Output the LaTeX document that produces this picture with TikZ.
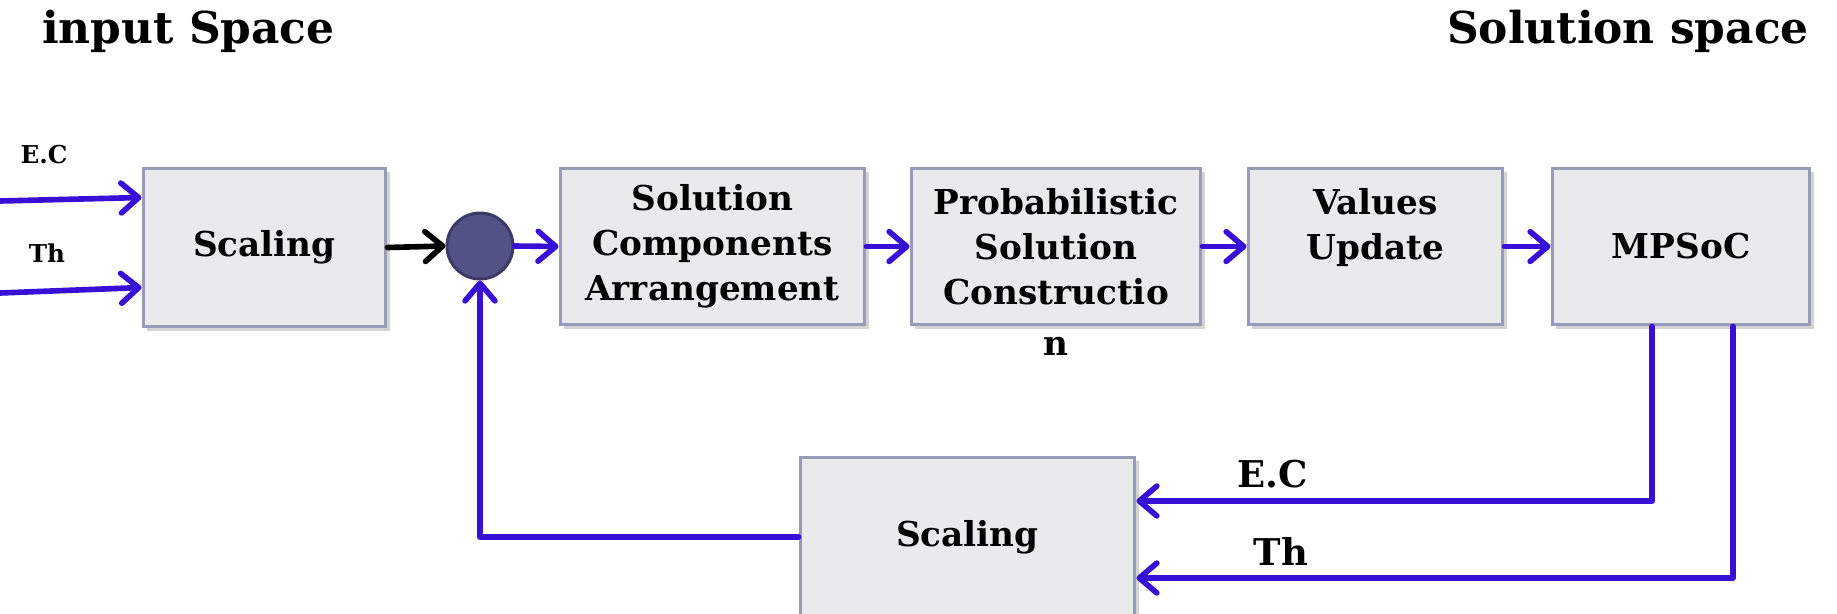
\documentclass[tikz,border=0pt]{standalone}
\usepackage{fontspec}
\setmainfont{DejaVu Serif}
\usetikzlibrary{arrows.meta,calc,shadows}

\definecolor{boxfill}{RGB}{234,234,236}
\definecolor{boxline}{RGB}{152,154,184}
\definecolor{flowblue}{RGB}{55,15,215}
\definecolor{sumfill}{RGB}{82,82,135}
\definecolor{sumline}{RGB}{58,58,100}

\tikzset{
    block/.style={draw=boxline, fill=boxfill, line width=1.7pt, inner sep=0pt,
        align=center, font=\bfseries\fontsize{19.5}{25.5}\selectfont,
        drop shadow={shadow xshift=2.5pt, shadow yshift=-2.5pt, opacity=0.35}},
    flow/.style={draw=flowblue, line width=3.2pt, line cap=round, line join=round,
        -{Straight Barb[length=10pt,width=17pt,line cap=round,line join=round]}},
    sig/.style={font=\bfseries\fontsize{14}{17}\selectfont},
    fbsig/.style={font=\bfseries\fontsize{21}{25}\selectfont},
    title/.style={font=\bfseries\fontsize{25}{30}\selectfont}
}

\begin{document}
\begin{tikzpicture}[x=0.02cm, y=-0.02cm]
    \useasboundingbox (0,0) rectangle (1837,613);

    % ===== titles =====
    \node[title, anchor=base west] (intitle) at (36,43) {input Space};
    \node[title, anchor=base east] (soltitle) at (1815,43) {Solution space};

    % ===== forward chain =====
    \node[block, minimum width=4.86cm, minimum height=3.18cm] (scaleIn) at (264.5,247.5) {Scaling};
    \node[circle, draw=sumline, fill=sumfill, line width=1.7pt, minimum size=1.32cm, inner sep=0pt] (sum) at (480,246) {};
    \node[block, minimum width=6.1cm, minimum height=3.14cm] (arrange) at (712.5,246.5)
        {Solution\\Components\\Arrangement};
    \node[block, minimum width=5.8cm, minimum height=3.14cm] (prob) at (1056,246.5)
        {Probabilistic\\Solution\\Constructio};
    \node[font=\bfseries\fontsize{19.5}{25.5}\selectfont, anchor=base, inner sep=0pt] (probtail)
        at ($(prob.south)+(0,29)$) {n};
    \node[block, minimum width=5.1cm, minimum height=3.14cm] (values) at (1375.5,246.5)
        {Values\\Update\\\mbox{}};
    \node[block, minimum width=5.16cm, minimum height=3.14cm] (mpsoc) at (1681,246.5) {MPSoC};

    % ===== inputs =====
    \coordinate (ecin) at (0,201);
    \coordinate (thin) at (0,293);
    \draw[flow] (ecin) -- ($(scaleIn.west)+(0,-50)$);
    \draw[flow] (thin) -- ($(scaleIn.west)+(0,40)$);
    \node[sig] (ecleft) at (44,155) {E.C};
    \node[sig] (thleft) at (47,253) {Th};

    % ===== arrows along the chain =====
    \draw[flow, draw=black] (scaleIn.east) -- (sum.west);
    \foreach \a/\b in {sum/arrange, arrange/prob, prob/values, values/mpsoc} {
        \draw[flow] (\a.east) -- (\b.west);
    }

    % ===== feedback =====
    \node[block, minimum width=6.7cm, minimum height=3.2cm] (scaleFb) at (967.5,537) {Scaling};
    \draw[flow] ($(mpsoc.south)+(-29,0)$) |- ($(scaleFb.east)+(0,-36)$);
    \draw[flow] ($(mpsoc.south)+(52,0)$) |- ($(scaleFb.east)+(0,41)$);
    \node[fbsig] (ecfb) at (1273,474) {E.C};
    \node[fbsig] (thfb) at (1281,551) {Th};
    \draw[flow] (scaleFb.west) -| (sum.south);
\end{tikzpicture}
\end{document}
